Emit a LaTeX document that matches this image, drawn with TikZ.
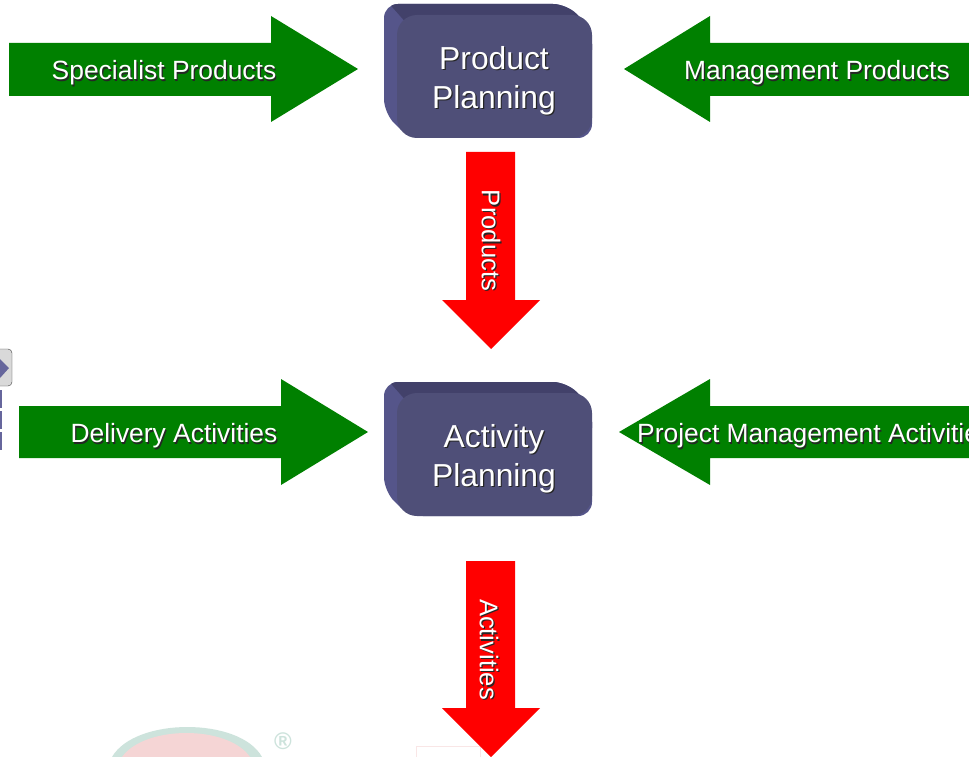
\documentclass[tikz,border=0pt]{standalone}
\usepackage{fontspec}
\setmainfont{Liberation Sans}
\usetikzlibrary{calc}
\definecolor{gr}{HTML}{008000}
\definecolor{fr}{HTML}{4F4F78}
\definecolor{tp}{HTML}{42416A}
\definecolor{lf}{HTML}{55558A}
\definecolor{logog}{HTML}{CDE3DC}
\definecolor{logor}{HTML}{F5D5D5}
\tikzset{
  gb/.style={fill=gr,draw=none},
  rb/.style={fill=red,draw=none},
  lab/.style={text=white,font=\fontsize{26.4}{26.4}\selectfont,inner sep=0pt},
  big/.style={text=white,font=\fontsize{31.8}{39}\selectfont,align=center,inner sep=0pt},
  shd/.style={text=black!85},
}
\newcommand{\shlabel}[4]{% name, pos, options, text
  \node[lab,shd,#3] (#1s) at ($(#2)+(1.2,1.2)$) {#4};
  \node[lab,#3] (#1) at (#2) {#4};}
\newcommand{\planbox}[3]{% name, y offset, text
  \begin{scope}[yshift=#2*-1pt]
    \begin{scope}
      \clip[rounded corners=14pt] (384,4) -- (567,4) -- (592,30) -- (592,138) -- (409,138) -- (384,113) -- cycle;
      \fill[lf] (380,0) rectangle (600,140);
      \fill[tp] (386,0) -- (600,0) -- (600,50) -- (430,50) -- cycle;
    \end{scope}
    \fill[fr,rounded corners=20pt] (397,15) rectangle (592,138);
    \node[big,text=black!85] (#1s) at (495.2,82.2) {#3};
    \node[big] (#1) at (494,81) {#3};
  \end{scope}}
\begin{document}
\begin{tikzpicture}[x=1pt,y=-1pt]
\useasboundingbox (0,0) rectangle (969,757);
\clip (0,0) rectangle (969,757);
\fill[white] (0,0) rectangle (969,757);
% faint logo
\fill[logog] (112,757) .. controls (135,717) and (240,717) .. (262,757) -- cycle;
\fill[logor] (122,757) .. controls (145,725) and (228,725) .. (250,757) -- cycle;
\node[text=logog,font=\bfseries\fontsize{24}{24}\selectfont,inner sep=0pt] (reg) at (283,741) {®};
\fill[logor!60] (416,746) rectangle (481,757);
\fill[white] (417,747) rectangle (480,757);
% side button
\fill[black!15,draw=black!75,rounded corners=4pt] (-10,349) rectangle (12,386);
\fill[black!65!blue!60] (0,359) -- (9,368) -- (0,378) -- cycle;
\foreach \yy in {390,411,432}{\fill[black!65!blue!60] (0,\yy) rectangle (2,\yy+18);}
% green arrows
\fill[gb] (9,43) -- (271,43) -- (271,16) -- (358,69) -- (271,122) -- (271,96) -- (9,96) -- cycle;
\fill[gb] (980,43) -- (710,43) -- (710,16) -- (624,69) -- (710,122) -- (710,96) -- (980,96) -- cycle;
\fill[gb] (19,406) -- (281,406) -- (281,379) -- (368,432) -- (281,485) -- (281,458) -- (19,458) -- cycle;
\fill[gb] (980,406) -- (710,406) -- (710,379) -- (619,432) -- (710,485) -- (710,458) -- (980,458) -- cycle;
% red arrows
\fill[rb] (466,152) -- (515,152) -- (515,300) -- (540,300) -- (491,349) -- (442,300) -- (466,300) -- cycle;
\fill[rb] (466,561) -- (515,561) -- (515,708) -- (540,708) -- (491,757) -- (442,708) -- (466,708) -- cycle;
% boxes
\planbox{pp}{0}{Product\\Planning}
\planbox{ap}{378}{Activity\\Planning}
% labels
\shlabel{sp}{164,73}{}{Specialist Products}
\shlabel{mp}{817,73}{}{Management Products}
\shlabel{da}{174,436}{}{Delivery Activities}
\shlabel{pm}{637,436}{anchor=west}{Project Management Activities}
\shlabel{pr}{491,240.5}{rotate=-90,font=\fontsize{25.6}{25.6}\selectfont}{Products}
\shlabel{ac}{489,649.5}{rotate=-90,font=\fontsize{25.6}{25.6}\selectfont}{Activities}
\end{tikzpicture}
\end{document}
